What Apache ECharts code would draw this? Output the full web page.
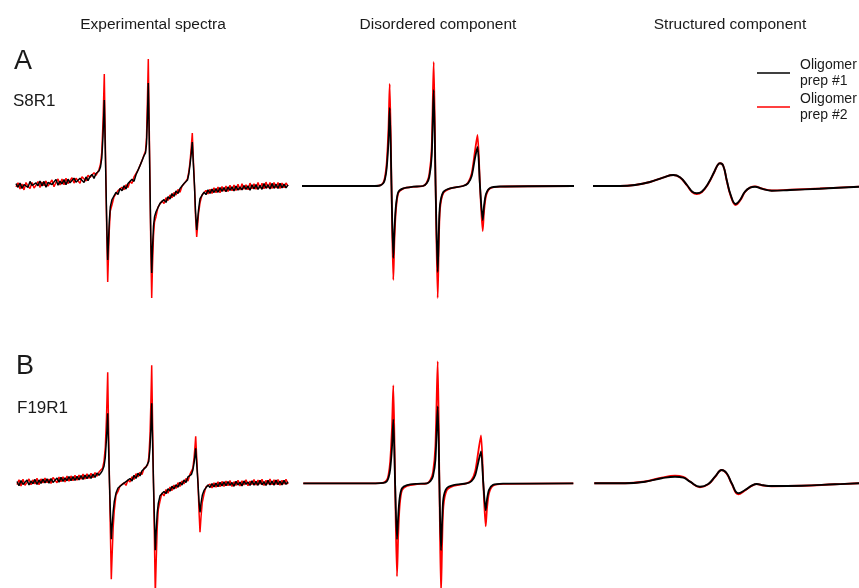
<!DOCTYPE html>
<html>
<head>
<meta charset="utf-8">
<script src="https://cdn.jsdelivr.net/npm/echarts@6/dist/echarts.min.js"></script>
<style>
  html, body { margin: 0; padding: 0; background: #fff; }
  #chart { width: 859px; height: 588px; }
</style>
</head>
<body>
<div id="chart"></div>
<script>
// ---- experimental spectra, row A (S8R1) ----
const fieldExpA = [0, 2, 4, 6, 8, 10, 12, 14, 16, 18, 20, 22, 24, 26, 28, 30, 32, 34, 36, 38, 40, 42, 44, 46, 48, 50, 52, 54, 56, 58, 60, 62, 64, 66, 68, 70, 72, 74, 76, 78, 80,
  81.5, 83, 84.5, 85.8, 87, 88.3, 89.2, 90, 90.8, 91.7, 92.5, 93.3, 94.3,
  96, 98, 100, 102, 104, 106, 108, 110, 112, 114, 116, 118, 120, 122, 124, 126, 128,
  129.5, 130.5, 131.4, 132.3, 133.2, 134, 134.8, 135.7, 136.5, 137.5, 138.5,
  140, 142, 144, 146, 148, 150, 152, 154, 156, 158, 160, 162, 164, 166, 168, 170,
  171.5, 172.8, 174, 175.2, 176.3, 177.2, 178.5, 179.5, 180.7, 181.5, 182.5,
  184, 186, 188, 190, 192, 194, 196, 198, 200, 202, 204, 206, 208, 210, 212, 214, 216, 218, 220, 222, 224, 226, 228, 230, 232, 234, 236, 238, 240, 242, 244, 246, 248, 250, 252, 254, 256, 258, 260, 262, 264, 266, 268, 270, 272]
const expA_prep1 = [2.3, -1.3, 3, -2.5, 1.5, 2.3, -1.3, 4.6, 0.5, -1.5, 3.2, 0.2, 5, 0, 4.6, -1.3, 3.5, 5.5, 1.5, 0.8, 6.6, 0.8, 4.9, 2, 6.4, 1.2, 6.8, 3.2, 2.6, 7.8, 3.8, 2.9, 7.7, 8.2, 3.6, 9.1, 5.4, 9.4, 11.6, 7.6, 12.5,
  13, 15, 19, 28, 50, 86, 40, 0, -40, -74, -55, -35, -21,
  -13.5, -14.3, -6.3, -8.5, -2.6, -4.8, 0.3, -3, 2.5, 0.7, 6.8, 4.6, 11.3, 11.6, 20.4, 21.2, 30.3,
  33, 42, 68, 103, 50, 0, -50, -87, -62, -40, -31,
  -25.8, -24.8, -17.4, -19, -13.6, -16.4, -10.7, -13.1, -7.6, -10.4, -4.9, -7.5, -2.5, -3.8, 2.5, 2.1,
  6, 12, 21, 32, 44, 25, 0, -25, -44, -35, -24,
  -12.6, -12.2, -6.2, -8.6, -3.9, -7.3, -3.2, -6.5, -2.6, -6.3, -1.6, -5.4, -1.5, -5.8, -1, -4.3, -0.8, -5, 0, -4.2, -1, -3.9, 0.5, -3.4, 0.1, -4.2, 1.3, -3, 1.4, -3.5, 0.6, -3.3, 2.4, -2.3, 1.3, -2.9, 2.6, -2.3, 1.8, -2.4, 2.7, -2, 1.9, -1.9, 1.1]
const expA_prep2 = [-0.8, 3.2, -2.9, 2, -3.9, 3.5, -0.1, -2.4, 3.6, -2.1, 0.8, 4.5, -1.6, 4, 0.4, 5.1, -0.2, 1.8, 6, -0.7, 3.6, 7, 1, 7, 1.2, 7.7, 2.5, 2.6, 8.2, 2.9, 7.7, 8.8, 2.6, 9.2, 8.2, 4.9, 10.8, 8.6, 9.3, 13.3, 10.7,
  12.5, 16.5, 22, 34, 64, 112, 52, 0, -50, -96, -70, -44, -25,
  -18.8, -10.8, -10.8, -4.6, -6.5, -1.2, -3.8, 1.2, -1.5, 4.8, 2.6, 9, 7.2, 15.8, 16.2, 25.4, 27.1,
  35, 48, 85, 127, 62, 0, -62, -112, -80, -50, -36,
  -30.7, -21.1, -21.9, -14.9, -17.6, -11.8, -14.5, -8.9, -11.8, -6.4, -9.1, -3.4, -6.3, -0.2, -1.2, 4.8,
  7.5, 14, 24, 38, 53, 30, 0, -30, -51, -41, -28,
  -16.8, -9, -9.9, -4.4, -8, -3.2, -7.4, -1.8, -6.8, -1, -6.7, -0.5, -5.2, 0, -5.6, 0.7, -4.7, 1, -4.5, 1.8, -4.1, 2.3, -3.3, 1.3, -3.7, 2.9, -2.8, 2.3, -3.2, 3.6, -2.3, 2.8, -2.8, 3.9, -2, 3.6, -2.6, 3.6, -1.9, 3.4, -2.4, 3, -1.8, 3, -0.2]

// ---- experimental spectra, row B (F19R1) ----
const fieldExpB = [1, 3, 5, 7, 9, 11, 13, 15, 17, 19, 21, 23, 25, 27, 29, 31, 33, 35, 37, 39, 41, 43, 45, 47, 49, 51, 53, 55, 57, 59, 61, 63, 65, 67, 69, 71, 73, 75, 77, 79, 81, 83,
  85, 86.5, 88, 89.3, 90.5, 91.7, 92.6, 93.5, 94.4, 95.3, 96.2, 97.2, 98.3,
  100, 102, 104, 106, 108, 110, 112, 114, 116, 118, 120, 122, 124, 126, 128, 130,
  131.5, 132.8, 134, 134.9, 135.7, 136.6, 137.5, 138.4, 139.3, 140.2, 141.2, 142.3,
  144, 146, 148, 150, 152, 154, 156, 158, 160, 162, 164, 166, 168, 170, 172, 174,
  175.5, 176.8, 178, 179, 179.7, 180.8, 182, 183, 184, 185, 186.3,
  188, 190, 192, 194, 196, 198, 200, 202, 204, 206, 208, 210, 212, 214, 216, 218, 220, 222, 224, 226, 228, 230, 232, 234, 236, 238, 240, 242, 244, 246, 248, 250, 252, 254, 256, 258, 260, 262, 264, 266, 268, 270, 272]
const expB_prep1 = [1.8, -2.4, 2.8, -1.2, 0.1, 3.2, -1.7, 2.3, -0.4, 3.9, -1.2, 3.3, -0.1, 4.2, 0.5, 4.5, 0.2, 4.8, 0.9, 1.5, 5.3, 1.2, 5.9, 2, 5.4, 2.5, 6.8, 2.6, 6.7, 3, 7, 3.4, 7.8, 3.9, 8.2, 4.7, 8.5, 5, 9.1, 5.9, 10.3, 8.1,
  10.5, 13, 17, 26, 45, 70, 35, 0, -30, -56, -42, -28, -18,
  -9.8, -4.7, -6.2, -1.4, -3.3, 1.7, -0.2, 4.8, 2.4, 8, 4.9, 10.1, 7.4, 12.5, 10.6, 16.2,
  17, 22, 35, 56, 80, 40, 0, -35, -67, -48, -30, -20,
  -12.5, -13.5, -8.2, -10.3, -5.5, -7.8, -2.9, -5.7, -1.4, -4, 1.1, -1.7, 3.3, 0.9, 6.5, 4.8,
  9, 13, 20, 28, 35, 18, 0, -18, -29, -20, -12,
  -7.1, -6.2, -1.7, -4.2, -0.4, -3.5, 0.2, -3.3, 1, -2.6, 1.4, -2.4, 1.8, -2, 0.8, -3, 2, -1.7, 1.1, -2.6, 2.3, -1, 1.3, -2.2, 2.5, -1.8, 2, -2, 2.9, -1.5, 1.6, -2.2, 3.1, -1.6, 2.1, -1.8, 3.2, -1.3, 2.2, -1.6, 2.9, -1.1, 1.5]
const expB_prep2 = [-1.3, 3.5, -2.7, 4.1, -2, 0.9, 4.3, -1.5, 3.4, -0.6, 5, -1.4, 4.4, 0.3, 5.2, 0.7, 4.3, -0.2, 5.9, 6.2, 0.6, 6.3, 1.5, 6.5, 1.2, 7.2, 2.1, 7.4, 2.6, 8, 3, 8.3, 4, 9.2, 4.2, 9.6, 4.9, 10.1, 5.6, 10.8, 7.1, 11.2,
  11, 15, 22, 36, 66, 111, 55, 0, -50, -96, -70, -44, -27,
  -11.9, -8.1, -2.7, -4.7, 0.5, -2.1, 3.6, 1.2, 6.6, 3.9, 9.6, 6.4, 11.1, 8.7, 14.9, 12.9,
  18, 26, 48, 82, 118, 60, 0, -55, -112, -78, -45, -26,
  -17.8, -9.6, -12.6, -6.3, -9.9, -3.8, -7.3, -1.7, -5.2, 0.6, -3.2, 2.4, -0.6, 4.9, 2.3, 9.2,
  9.5, 15, 25, 37, 47, 24, 0, -28, -49, -34, -19,
  -10.8, -3.6, -5.6, -0.7, -4.6, 0.4, -3.9, 1.5, -3.5, 1.9, -3.1, 2.2, -2.5, 2.7, -3.1, 1.6, -2.1, 3.1, -2.6, 2.5, -1.6, 3.5, -2.4, 2.2, -1.2, 3.7, -1.8, 3.2, -0.9, 4, -2.1, 2.9, -0.8, 4.2, -1.5, 3.4, -1.2, 3.9, -1.9, 3, -0.9, 4, -0.8]

// ---- disordered component ----
const fieldDisA = [0, 70, 78, 81.3, 83, 84.7, 86.5, 87.7, 89.5, 91.3, 92.5, 94, 96.3, 101.3, 111, 121, 124.7, 127.3, 129.7, 131.7, 133.6, 135.7, 136.8, 138, 141.3, 148, 161, 166, 169.7, 173, 175.5, 178, 180.7, 182, 184, 188, 198, 272]
const disA_prep1 = [0, 0, 0.5, 2.7, 7, 18, 45, 78, 0, -72, -42, -19, -6, -2.3, -0.7, 0, 2.7, 9, 30, 96, 0, -86, -46, -19, -6, -2.3, 0, 2.7, 10, 28, 39, 0, -34, -20, -8, -2, -0.5, 0]
const disA_prep2 = [0, 0, 0.6, 3.4, 9, 23, 58, 102, 0, -94, -52, -23, -7, -2.6, -0.8, 0, 3.3, 11.5, 38, 124, 0, -112, -58, -23, -7, -2.6, 0, 3.3, 12.5, 35, 51, 0, -45, -26, -10, -2.5, -0.6, 0]
const fieldDisB = [1.3, 73.5, 81.5, 84.8, 86.5, 88.2, 90, 91.3, 93.1, 95, 96.2, 97.6, 100, 105, 115, 125, 128.4, 131, 133.4, 135.7, 137.4, 139, 140.2, 141.4, 144.7, 151.5, 164.5, 169.5, 173.2, 176.5, 179, 181.3, 183.7, 185, 187, 191, 201, 271.3]
const disB_prep1 = [0, 0, 0.4, 2, 5.5, 14, 36, 64, 0, -56, -33, -15, -5, -1.8, -0.5, 0, 2.1, 7, 23, 77, 0, -67, -36, -15, -5, -1.8, 0, 2.2, 8, 22, 32, 0, -27, -16, -6.5, -1.6, -0.4, 0]
const disB_prep2 = [0, 0, 0.6, 3.3, 8.5, 22, 56, 98, 0, -93, -52, -23, -7, -2.6, -0.8, 0, 3.3, 11, 37, 122, 0, -110, -57, -23, -7, -2.6, 0, 3.2, 12, 33, 48, 0, -43, -25, -10, -2.5, -0.6, 0]

// ---- structured component ----
const fieldStrA = [0, 27, 42, 57, 70, 80.3, 87, 94, 99.3, 103.7, 108.7, 115.3, 121.3, 124.7, 127, 130.3, 133.7, 137.7, 142.7, 147, 152, 157, 162, 168.7, 178.7, 197, 227, 266]
const strA_prep1 = [0, 0, 1, 4, 8.3, 11, 8.7, 1, -5.7, -7.3, -5.7, 2.7, 14.3, 21, 22.7, 20, 6, -9, -18, -14, -5.7, -1.7, -0.7, -2.7, -4.7, -4, -2.7, -0.7]
const strA_prep2 = [0, 0, 1, 4, 8.3, 11, 8.5, 0.5, -6.3, -8, -6.2, 2.3, 14, 21, 22.7, 20, 5.5, -9.8, -19, -14.8, -6, -1.6, -0.4, -2.5, -4.5, -3.8, -2.5, -0.6]
const fieldStrB = [1.3, 32, 52, 68.7, 82, 90.3, 97, 107, 115.3, 122, 128.7, 133.7, 138.7, 145.3, 152, 158.7, 163.7, 170.3, 178.7, 208.7, 242, 266]
const strB_prep1 = [0, 0, 1.6, 5, 6.6, 5.6, 1.6, -3.4, -0.7, 6.6, 13.3, 10, 0, -10, -6.7, -2.4, -0.7, -2, -2.7, -2.4, -1, 0]
const strB_prep2 = [0, 0, 1.8, 5.6, 7.5, 6.4, 1.8, -4, -1, 6.3, 13.3, 9.6, -0.5, -11, -7.2, -2.6, -0.8, -2.2, -2.9, -2.5, -1, 0]

const columnTitles = ['Experimental spectra', 'Disordered component', 'Structured component']
const rowLetters = ['A', 'B']
const mutants = ['S8R1', 'F19R1']
const PREP1 = 'Oligomer\nprep #1'
const PREP2 = 'Oligomer\nprep #2'

const FONT = '"Liberation Sans", Arial, sans-serif'
const TEXT = '#1a1a1a'

const pts = (xs, ys) => xs.map((x, i) => [x, ys[i]])

// column/row boxes
const cols = [
  { left: 16, width: 272, max: 272, cx: 153 },
  { left: 302, width: 272, max: 272, cx: 438 },
  { left: 593, width: 266, max: 266, cx: 730 }
]
const rows = [
  { top: 40, height: 270, min: -124, max: 146 },
  { top: 330, height: 258, min: -104.7, max: 153.3 }
]

const panels = [
  { c: 0, r: 0, x: fieldExpA, a: expA_prep1, b: expA_prep2, smooth: false, w: 1.5 },
  { c: 1, r: 0, x: fieldDisA, a: disA_prep1, b: disA_prep2, smooth: 0.25, w: 1.8 },
  { c: 2, r: 0, x: fieldStrA, a: strA_prep1, b: strA_prep2, smooth: 0.45, w: 1.9 },
  { c: 0, r: 1, x: fieldExpB, a: expB_prep1, b: expB_prep2, smooth: false, w: 1.5 },
  { c: 1, r: 1, x: fieldDisB, a: disB_prep1, b: disB_prep2, smooth: 0.25, w: 1.8 },
  { c: 2, r: 1, x: fieldStrB, a: strB_prep1, b: strB_prep2, smooth: 0.45, w: 1.9 }
]

const grid = [], xAxis = [], yAxis = [], series = []
panels.forEach((p, i) => {
  const c = cols[p.c], r = rows[p.r]
  grid.push({ left: c.left, width: c.width, top: r.top, height: r.height, containLabel: false })
  xAxis.push({ type: 'value', gridIndex: i, min: 0, max: c.max, show: false })
  yAxis.push({ type: 'value', gridIndex: i, min: r.min, max: r.max, show: false })
  const common = { type: 'line', xAxisIndex: i, yAxisIndex: i, symbol: 'none', showSymbol: false, smooth: p.smooth, animation: false }
  series.push(Object.assign({ name: PREP2, data: pts(p.x, p.b), z: 2,
    itemStyle: { color: '#ff0000' }, lineStyle: { color: '#ff0000', width: p.w } }, common))
  series.push(Object.assign({ name: PREP1, data: pts(p.x, p.a), z: 3,
    itemStyle: { color: '#000000' }, lineStyle: { color: '#000000', width: p.w } }, common))
})

const title = [
  ...columnTitles.map((t, i) => ({ text: t, left: cols[i].cx, top: 17, textAlign: 'center', padding: 0,
    textStyle: { fontSize: 15.5, fontWeight: 'normal', color: TEXT, fontFamily: FONT } })),
  { text: rowLetters[0], left: 14, top: 48, padding: 0, textStyle: { fontSize: 27, fontWeight: 'normal', color: TEXT, fontFamily: FONT } },
  { text: mutants[0], left: 13, top: 93, padding: 0, textStyle: { fontSize: 17, fontWeight: 'normal', color: TEXT, fontFamily: FONT } },
  { text: rowLetters[1], left: 16, top: 353, padding: 0, textStyle: { fontSize: 27, fontWeight: 'normal', color: TEXT, fontFamily: FONT } },
  { text: mutants[1], left: 17, top: 400, padding: 0, textStyle: { fontSize: 17, fontWeight: 'normal', color: TEXT, fontFamily: FONT } }
]

const chart = echarts.init(document.getElementById('chart'))
chart.setOption({
  backgroundColor: '#ffffff',
  animation: false,
  title,
  legend: {
    data: [{ name: PREP1, icon: 'rect' }, { name: PREP2, icon: 'rect' }],
    orient: 'vertical',
    left: 757,
    top: 57,
    padding: 0,
    itemWidth: 33,
    itemHeight: 1.5,
    itemGap: 2,
    selectedMode: false,
    textStyle: { fontSize: 14, lineHeight: 16, color: TEXT, fontFamily: FONT, padding: [0, 0, 0, 5] }
  },
  grid,
  xAxis,
  yAxis,
  series
})
</script>
</body>
</html>
